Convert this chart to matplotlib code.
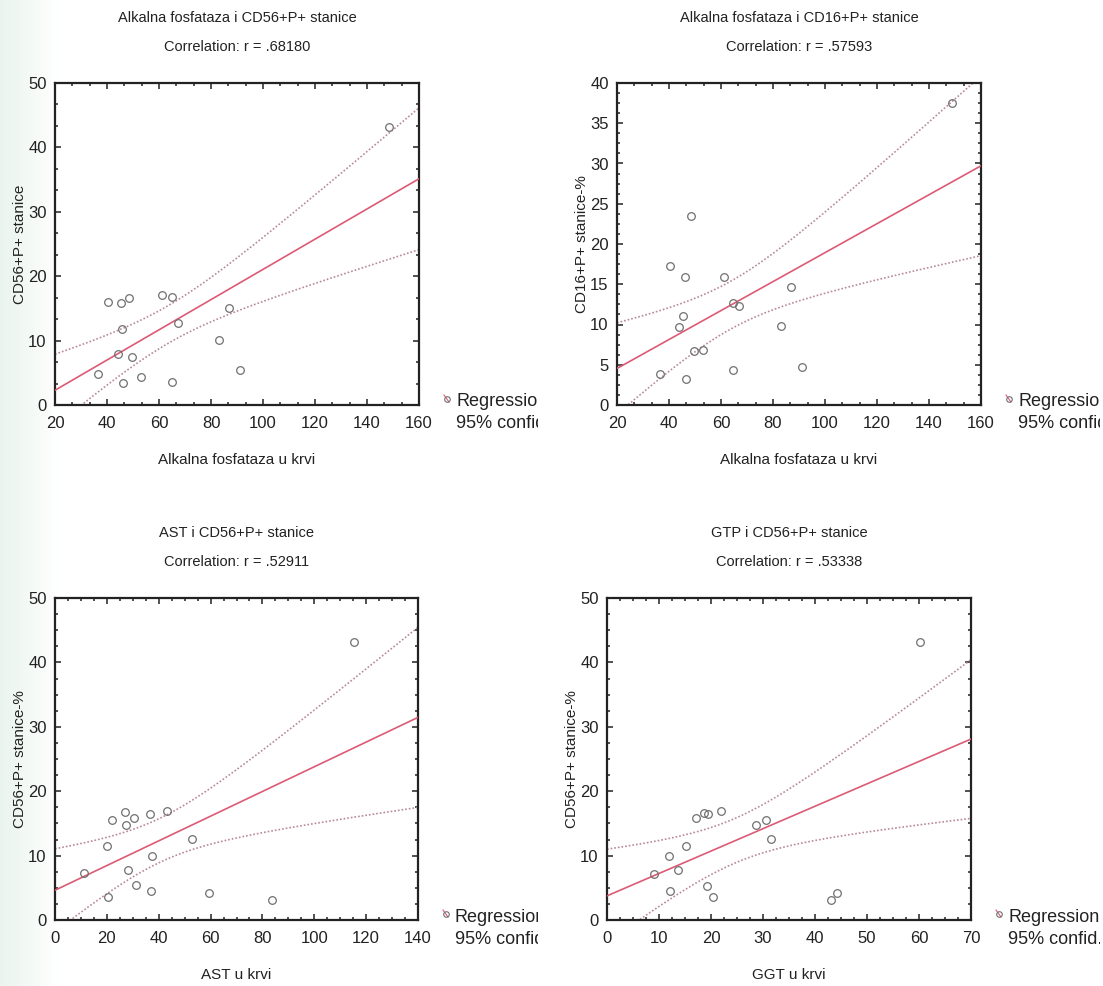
import matplotlib
matplotlib.use("Agg")
import matplotlib.pyplot as plt
import numpy as np
from matplotlib.ticker import MultipleLocator, AutoMinorLocator
from matplotlib.transforms import Bbox, TransformedBbox
from matplotlib.colors import LinearSegmentedColormap

plt.rcParams['font.family'] = ['Liberation Sans', 'DejaVu Sans']

# panel 1: alkalna fosfataza vs CD56+P+
alp_a = [36.4, 40.3, 44.1, 45.4, 45.9, 46.3, 48.5, 49.7, 53.0, 61.3, 64.9, 65.0, 67.2, 83.2, 87.0, 91.2, 148.5]
cd56_a = [4.8, 16.0, 7.9, 15.8, 11.75, 3.4, 16.6, 7.4, 4.4, 17.1, 3.6, 16.8, 12.8, 10.1, 15.0, 5.4, 43.2]

# panel 2: alkalna fosfataza vs CD16+P+
alp_b = [36.5, 40.4, 44.0, 45.5, 46.2, 46.4, 48.5, 49.6, 53.1, 61.2, 64.7, 64.7, 67.0, 83.2, 87.0, 91.2, 148.7]
cd16_b = [3.85, 17.3, 9.7, 11.05, 15.9, 3.2, 23.5, 6.7, 6.8, 15.9, 4.3, 12.7, 12.3, 9.85, 14.6, 4.7, 37.5]

# panel 3: AST vs CD56+P+
ast_c = [11.1, 20.0, 20.3, 22.0, 26.9, 27.3, 28.0, 30.6, 31.2, 36.6, 37.0, 37.5, 43.3, 52.7, 59.3, 83.8, 115.4]
cd56_c = [7.25, 11.5, 3.5, 15.6, 16.8, 14.75, 7.8, 15.9, 5.4, 16.5, 4.5, 10.0, 17.0, 12.6, 4.2, 3.1, 43.1]

# panel 4: GGT vs CD56+P+
ggt_d = [9.0, 11.85, 12.2, 13.65, 15.2, 17.1, 18.6, 19.2, 19.4, 20.3, 21.9, 28.7, 30.6, 31.5, 43.0, 44.2, 60.1]
cd56_d = [7.2, 9.9, 4.45, 7.7, 11.5, 15.8, 16.6, 5.3, 16.4, 3.5, 16.9, 14.75, 15.6, 12.6, 3.1, 4.2, 43.1]

titles = ["Alkalna fosfataza i CD56+P+ stanice", "Alkalna fosfataza i CD16+P+ stanice",
          "AST i CD56+P+ stanice", "GTP i CD56+P+ stanice"]
corr_labels = ["Correlation: r = .68180", "Correlation: r = .57593",
               "Correlation: r = .52911", "Correlation: r = .53338"]
xlabels = ["Alkalna fosfataza u krvi", "Alkalna fosfataza u krvi", "AST u krvi", "GGT u krvi"]
ylabels = ["CD56+P+ stanice", "CD16+P+ stanice-%", "CD56+P+ stanice-%", "CD56+P+ stanice-%"]

# multiplier for the band half-width (the original bands are narrower than t(.975,15)=2.131 gives)
T_CRIT = 1.70

W, H = 1103, 986
fig = plt.figure(figsize=(W / 100, H / 100), dpi=100)
fig.patch.set_facecolor('white')

# faint green tint of the scanned page, fading out from the left edge
bg = fig.add_axes([0, 0, 60 / W, 1], zorder=-5)
bg.imshow(np.linspace(1, 0, 60)[None, :], aspect='auto', extent=(0, 1, 0, 1),
          cmap=LinearSegmentedColormap.from_list('tint', ['#ffffff', '#eaf4ed']))
bg.axis('off')

# axes boxes in pixels: left, top, right, bottom
boxes = [(55, 83, 419, 405), (617, 83, 981, 405), (55, 598, 418, 920), (607, 598, 971, 920)]
xlims = [(20, 160), (20, 160), (0, 140), (0, 70)]
ylims = [(0, 50), (0, 40), (0, 50), (0, 50)]
xmaj = [20, 20, 20, 10]
ymaj = [10, 5, 10, 10]
xminn = [3, 3, 4, 4]
yminn = [3, 4, 4, 4]
clip_right = [538, 1100, 538, 1100]

data = [(alp_a, cd56_a), (alp_b, cd16_b), (ast_c, cd56_c), (ggt_d, cd56_d)]

red = '#dc5a74'
ci_col = '#b88a98'

for i, (xs, ys) in enumerate(data):
    l, t, r, b = boxes[i]
    ax = fig.add_axes([l / W, 1 - b / H, (r - l) / W, (b - t) / H])
    x = np.array(xs)
    y = np.array(ys)
    n = len(x)
    slope, inter = np.polyfit(x, y, 1)
    resid = y - (slope * x + inter)
    s = np.sqrt(np.sum(resid ** 2) / (n - 2))
    sxx = np.sum((x - x.mean()) ** 2)
    grid = np.linspace(xlims[i][0], xlims[i][1], 200)
    fit = slope * grid + inter
    half = T_CRIT * s * np.sqrt(1 / n + (grid - x.mean()) ** 2 / sxx)

    ax.plot(grid, fit, color=red, lw=1.2, zorder=3)
    ax.plot(grid, fit + half, color=ci_col, lw=1.2, ls=(0, (1, 1.2)), zorder=2)
    ax.plot(grid, fit - half, color=ci_col, lw=1.2, ls=(0, (1, 1.2)), zorder=2)
    ax.plot(x, y, 'o', ms=5.5, mfc='none', mec='#707070', mew=0.9, zorder=4)

    ax.set_xlim(*xlims[i])
    ax.set_ylim(*ylims[i])
    ax.xaxis.set_major_locator(MultipleLocator(xmaj[i]))
    ax.yaxis.set_major_locator(MultipleLocator(ymaj[i]))
    ax.xaxis.set_minor_locator(AutoMinorLocator(xminn[i]))
    ax.yaxis.set_minor_locator(AutoMinorLocator(yminn[i]))
    ax.tick_params(which='both', direction='in', top=True, right=True, colors='#222222',
                   labelcolor='#222222', labelsize=12, width=1.1)
    ax.tick_params(which='major', length=4)
    ax.tick_params(axis='x', which='major', pad=8)
    ax.tick_params(axis='y', which='major', pad=6)
    ax.tick_params(which='minor', length=2.5)
    for sp in ax.spines.values():
        sp.set_linewidth(1.6)
        sp.set_color('#222222')

    ax.set_xlabel(xlabels[i], fontsize=11, labelpad=16, color='#222222')
    ax.set_ylabel(ylabels[i], fontsize=11, labelpad=1, color='#222222')

    cx = (l + r) / 2 / W
    fig.text(cx, 1 - (t - 65) / H, titles[i], ha='center', va='center', fontsize=10.5, color='#222222')
    fig.text(cx, 1 - (t - 36) / H, corr_labels[i], ha='center', va='center', fontsize=10.5, color='#222222')

    # legend outside the frame, partly cut off as in the original
    clip = TransformedBbox(Bbox.from_extents(0, 0, clip_right[i] / W, 1), fig.transFigure)
    lx = r + 28
    ly = b - 6
    fig.lines.append(plt.Line2D([(lx - 3) / W, (lx + 2) / W], [1 - (ly - 4) / H, 1 - (ly + 3) / H],
                                transform=fig.transFigure, color=red, lw=0.8))
    fig.lines.append(plt.Line2D([lx / W], [1 - ly / H], transform=fig.transFigure,
                                marker='o', ms=4, mfc='none', mec='#707070', mew=0.8))
    t1 = fig.text((lx + 9) / W, 1 - (ly + 3) / H, "Regression", ha='left', va='center',
                  fontsize=13, color='#222222')
    t2 = fig.text((lx + 9) / W, 1 - (ly + 25) / H, "95% confid.", ha='left', va='center',
                  fontsize=13, color='#222222')
    for tx in (t1, t2):
        tx.set_clip_on(True)
        tx.set_clip_box(clip)

fig.savefig("out.png", dpi=100)
